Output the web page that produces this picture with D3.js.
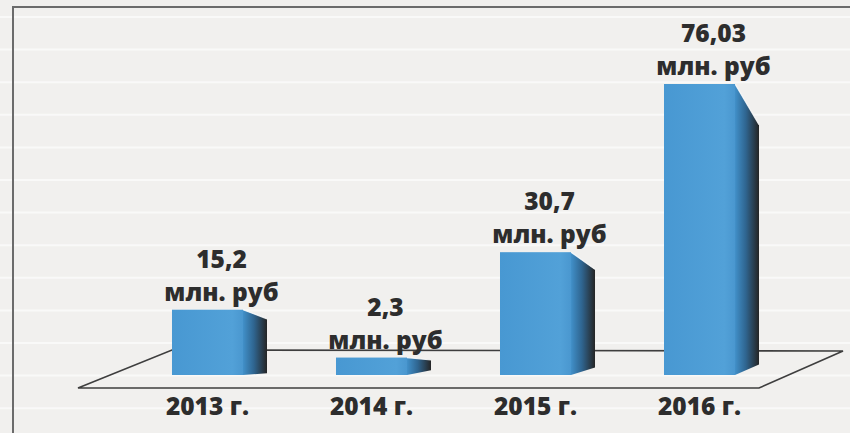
<!DOCTYPE html>
<html>
<head>
<meta charset="utf-8">
<script src="https://cdn.jsdelivr.net/npm/d3@7"></script>
<style>
  html, body { margin: 0; padding: 0; background: #f1f0ee; }
  svg { display: block; }
  text { font-family: "Open Sans", "DejaVu Sans", sans-serif; font-weight: 800; fill: #2d2d2d; }
</style>
</head>
<body>
<svg id="chart" width="850" height="433"></svg>
<script>
  // chart data
  const years = ["2013 г.", "2014 г.", "2015 г.", "2016 г."];
  const values = [15.2, 2.3, 30.7, 76.03];
  const valueLabels = ["15,2", "2,3", "30,7", "76,03"];
  const unitLabel = "млн. руб";

  const WIDTH = 850;
  const HEIGHT = 433;
  const SIDE_WIDTH = 24;
  const FONT_SIZE = 24.5;

  const svg = d3.select("#chart");
  const defs = svg.append("defs");

  // side face shading, blue into near black
  const sideGrad = defs.append("linearGradient").attr("id", "side-grad")
    .attr("x1", "0%").attr("x2", "100%").attr("y1", "0%").attr("y2", "0%");
  sideGrad.append("stop").attr("offset", "0%").attr("stop-color", "#4190c9");
  sideGrad.append("stop").attr("offset", "45%").attr("stop-color", "#2f6590");
  sideGrad.append("stop").attr("offset", "100%").attr("stop-color", "#252525");

  const frontGrad = defs.append("linearGradient").attr("id", "front-grad")
    .attr("x1", "0%").attr("x2", "100%").attr("y1", "0%").attr("y2", "0%");
  frontGrad.append("stop").attr("offset", "0%").attr("stop-color", "#4898d2");
  frontGrad.append("stop").attr("offset", "85%").attr("stop-color", "#52a1d8");
  frontGrad.append("stop").attr("offset", "100%").attr("stop-color", "#4a97cf");

  // background with the pale horizontal stripes
  svg.append("rect").attr("width", WIDTH).attr("height", HEIGHT).attr("fill", "#f1f0ee");
  svg.append("g").selectAll("line")
    .data(d3.range(17, HEIGHT, 32.6))
    .join("line")
    .attr("x1", 0).attr("x2", WIDTH)
    .attr("y1", (d) => d).attr("y2", (d) => d)
    .attr("stroke", "#f9f9f8").attr("stroke-width", 2);

  // frame
  svg.append("path")
    .attr("d", `M13,${HEIGHT} L13,7 L${WIDTH},7`)
    .attr("fill", "none").attr("stroke", "#6b6b6b").attr("stroke-width", 2);

  const x = d3.scaleBand()
    .domain(years)
    .range([79, 828])
    .paddingInner(0.567)
    .paddingOuter(0.567);

  const y = d3.scaleLinear()
    .domain([-2.4, 76.03])
    .range([375, 84]);

  const base = y(y.domain()[0]);

  // floor of the 3d plot
  const floor = [[78, 388], [759, 388], [843, 351], [172, 350]];
  svg.append("polygon")
    .attr("points", floor.map((p) => p.join(",")).join(" "))
    .attr("fill", "none")
    .attr("stroke", "#3e3e3e")
    .attr("stroke-width", 1.6);

  const bars = svg.append("g").selectAll("g")
    .data(years.map((year, i) => ({ year, value: values[i], label: valueLabels[i] })))
    .join("g");

  function sidePoints(d) {
    const x1 = x(d.year) + x.bandwidth();
    const top = y(d.value);
    const h = base - top;
    const rise = 0.018 * (x1 - 150);
    return [[x1, top], [x1 + SIDE_WIDTH, top + 0.14 * h], [x1 + SIDE_WIDTH, base - rise], [x1, base]];
  }

  bars.append("polygon")
    .attr("points", (d) => sidePoints(d).map((p) => p.join(",")).join(" "))
    .attr("fill", "url(#side-grad)");

  bars.append("line")
    .attr("x1", (d) => sidePoints(d)[0][0]).attr("y1", (d) => sidePoints(d)[0][1])
    .attr("x2", (d) => sidePoints(d)[1][0]).attr("y2", (d) => sidePoints(d)[1][1])
    .attr("stroke", "rgba(255,255,255,0.85)").attr("stroke-width", 1.2);

  bars.append("rect")
    .attr("x", (d) => x(d.year))
    .attr("y", (d) => y(d.value))
    .attr("width", x.bandwidth())
    .attr("height", (d) => base - y(d.value))
    .attr("fill", "url(#front-grad)");

  // value labels above each bar
  const labelX = (d) => x(d.year) + x.bandwidth() / 2 + 14;
  bars.append("text")
    .attr("x", labelX)
    .attr("y", (d) => y(d.value) - 42)
    .attr("text-anchor", "middle")
    .attr("font-size", FONT_SIZE)
    .text((d) => d.label);
  bars.append("text")
    .attr("x", labelX)
    .attr("y", (d) => y(d.value) - 9)
    .attr("text-anchor", "middle")
    .attr("font-size", FONT_SIZE)
    .text(unitLabel);

  // category labels
  svg.append("g").selectAll("text")
    .data(years)
    .join("text")
    .attr("x", (d) => x(d) + x.bandwidth() / 2)
    .attr("y", 415)
    .attr("text-anchor", "middle")
    .attr("font-size", FONT_SIZE)
    .text((d) => d);
</script>
</body>
</html>
